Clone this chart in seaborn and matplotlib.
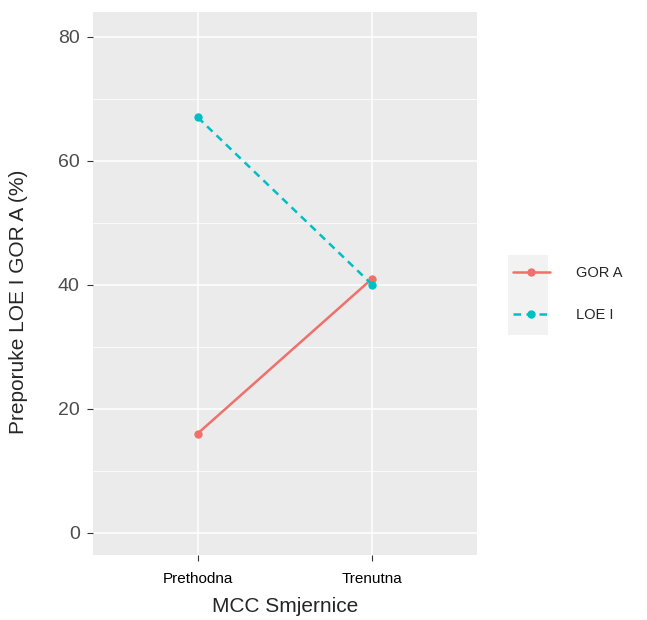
import matplotlib
matplotlib.use("Agg")
import matplotlib.pyplot as plt
import seaborn as sns
import pandas as pd
from matplotlib.lines import Line2D
from matplotlib.patches import Rectangle

categories = ["Prethodna", "Trenutna"]
gor_a = [16, 41]
loe_i = [67, 40]
series_names = ["GOR A", "LOE I"]

df = pd.DataFrame({
    "MCC Smjernice": categories * 2,
    "value": gor_a + loe_i,
    "series": [series_names[0]] * 2 + [series_names[1]] * 2,
})
df["x"] = df["MCC Smjernice"].map({c: i for i, c in enumerate(categories)})

sns.set_style("white")
plt.rcParams['font.family'] = ['Liberation Sans', 'DejaVu Sans']

colors = {"GOR A": "#F0706A", "LOE I": "#00BFC4"}

fig = plt.figure(figsize=(6.47, 6.2), dpi=100)
ax = fig.add_axes([93/647, 65/620, 384/647, 543/620])
ax.set_facecolor("#EBEBEB")

sns.lineplot(data=df[df.series == "GOR A"], x="x", y="value", color=colors["GOR A"],
             marker="o", markersize=6, markeredgewidth=0, linewidth=1.8, ax=ax, legend=False)
sns.lineplot(data=df[df.series == "LOE I"], x="x", y="value", color=colors["LOE I"],
             marker="o", markersize=6, markeredgewidth=0, linewidth=1.8, ax=ax, legend=False,
             linestyle=(0, (3, 2.2)))

ax.set_xlim(-0.6, 1.6)
ax.set_ylim(-3.6, 84)
ax.set_xticks([0, 1])
ax.set_xticklabels(categories)
ax.set_yticks([0, 20, 40, 60, 80])
ax.set_yticks([10, 30, 50, 70], minor=True)
ax.grid(True, which="major", color="white", linewidth=1.1)
ax.grid(True, which="minor", axis="y", color="white", linewidth=0.55)
ax.set_axisbelow(True)
for s in ax.spines.values():
    s.set_visible(False)
ax.tick_params(axis="y", which="major", length=4.5, color="#333333", labelsize=14, labelcolor="#4D4D4D", pad=5, left=True)
ax.tick_params(axis="y", which="minor", length=0)
ax.tick_params(axis="x", length=4, color="#333333", labelsize=11, labelcolor="black", pad=8, bottom=True)
ax.set_xlabel("MCC Smjernice", fontsize=15, labelpad=8)
ax.set_ylabel("Preporuke LOE I GOR A (%)", fontsize=15)
ax.yaxis.set_label_coords(-0.17, 0.466)

# legend key background
fig.patches.append(Rectangle((508/647, (620-335)/620), 40/647, 80/620,
                             transform=fig.transFigure, facecolor="#F2F2F2", edgecolor="none", zorder=0))
handles = [
    Line2D([], [], color=colors["GOR A"], marker="o", markersize=6, markeredgewidth=0, linewidth=1.8),
    Line2D([], [], color=colors["LOE I"], marker="o", markersize=6, markeredgewidth=0, linewidth=1.8,
           linestyle=(0, (3, 2.2))),
]
fig.legend(handles, series_names, loc="center left", bbox_to_anchor=(500/647, (620-294)/620),
           frameon=False, fontsize=10.5, handlelength=2.5, labelspacing=1.9, handletextpad=1.8)

fig.savefig("out.png", dpi=100)
